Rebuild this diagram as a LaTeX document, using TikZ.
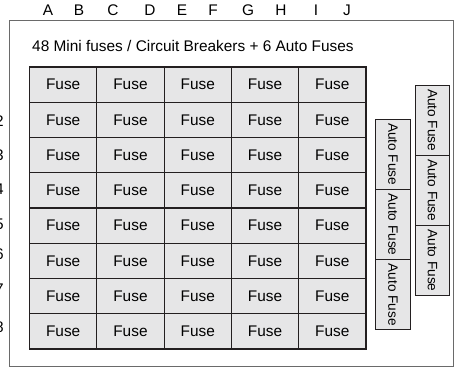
\documentclass[tikz,border=0pt]{standalone}
\usepackage{fontspec}
\setmainfont{Liberation Sans}
\usetikzlibrary{positioning}
\definecolor{Ink}{HTML}{231F20}
\definecolor{FuseFill}{HTML}{E6E6E7}
\definecolor{Frame}{HTML}{6A6A6A}

\begin{document}
\begin{tikzpicture}[
  x=1pt, y=-1pt,
  font=\fontsize{15.4}{17}\selectfont,
  fuse/.style={draw=Ink, line width=1.2pt, fill=FuseFill, minimum width=67.3pt, minimum height=35.25pt, inner sep=0pt},
  autofuse/.style={draw=Ink, line width=1pt, fill=FuseFill, rotate=-90, minimum width=70.2pt, minimum height=34.5pt, inner sep=0pt, font=\fontsize{13.6}{15}\selectfont},
  colmark/.style={inner sep=0pt},
  rowmark/.style={inner sep=0pt, anchor=east}
]
\useasboundingbox (0,0) rectangle (457,367);

% frame of the panel
\draw[Frame, line width=1pt] (9,20) rectangle (453,366);

% column letters and row numbers
\foreach \lab/\xx in {A/48,B/79,C/113,D/150,E/182,F/213,G/248,H/281,I/316,J/347}
  \node[colmark] (col\lab) at (\xx,10) {\lab};
\foreach \r/\yy in {2/121,3/155,4/189,5/224,6/254,7/289,8/327}
  \node[rowmark] (row\r) at (4,\yy) {\r};

\node[anchor=west, inner sep=0pt] (title) at (32,46) {48 Mini fuses / Circuit Breakers + 6 Auto Fuses};

% mini fuses
\foreach \r in {1,...,8}
  \foreach \c in {1,...,5}
    \node[fuse] (f\r\c) at ({29.5+67.3*(\c-0.5)},{67+35.25*(\r-0.5)}) {Fuse};

% auto fuses
\foreach \k in {1,2,3} {
  \node[autofuse] (a\k) at (393,{119+70.3*(\k-0.5)}) {Auto Fuse};
  \node[autofuse] (b\k) at (432.5,{85+70.2*(\k-0.5)}) {Auto Fuse};
}
\end{tikzpicture}
\end{document}
